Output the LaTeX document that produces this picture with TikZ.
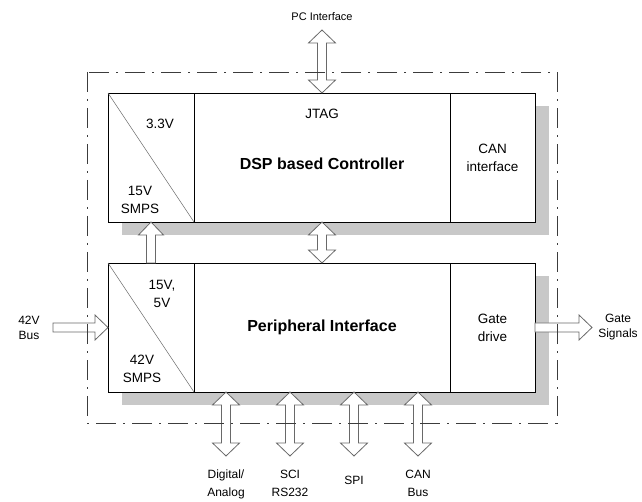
\documentclass[tikz,border=0pt]{standalone}
\usepackage{fontspec}
\setmainfont{Liberation Sans}
\usepackage{tikz}
\usetikzlibrary{positioning,calc}
\definecolor{shadowgray}{RGB}{200,200,200}
\definecolor{arrowgray}{RGB}{105,105,105}
\definecolor{zonegray}{RGB}{60,60,60}
\pgfdeclarelayer{background}
\pgfsetlayers{background,main}
\tikzset{
  boardpic/.style={
    x=1pt,y=-1pt
    ,node distance=0pt
    ,inner sep=0pt
    ,outer sep=0pt
    ,font=\fontsize{13.5}{18}\selectfont
  }
  ,cell/.style={draw=black,line width=.8pt,fill=white,minimum height=129pt}
  ,smpscell/.style={cell,minimum width=86pt}
  ,corecell/.style={cell,minimum width=256pt}
  ,sidecell/.style={cell,minimum width=85pt,align=center}
  ,title/.style={font=\fontsize{16}{19}\selectfont\bfseries}
  ,lbl/.style={align=center}
  ,outlbl/.style={align=center,font=\fontsize{12}{18}\selectfont}
  ,sidelbl/.style={align=center,font=\fontsize{12}{15}\selectfont}
  ,diag/.style={draw=arrowgray,line width=.5pt}
  ,shade/.style={fill=shadowgray}
  ,zone/.style={draw=zonegray,line width=.8pt
    ,dash pattern=on 20pt off 7pt on 2pt off 7pt}
  ,blockarrow/.style={draw=arrowgray,fill=white,line width=.8pt,line join=miter}
}
% double arrow, #1 upper tip, #2 lower tip
\newcommand{\vdblarrow}[2]{%
  \draw[blockarrow] (#1) -- ++(13.5,13) -- ++(-9,0) -- ($(#2)+(4.5,-13)$)
    -- ++(9,0) -- (#2) -- ++(-13.5,-13) -- ++(9,0) -- ($(#1)+(-4.5,13)$)
    -- ++(-9,0) -- cycle;}
% single arrow pointing up, #1 tail, #2 tip
\newcommand{\upsarrow}[2]{%
  \draw[blockarrow] ($(#1)+(-4.5,0)$) -- ($(#2)+(-4.5,13)$) -- ++(-8,0)
    -- (#2) -- ($(#2)+(12.5,13)$) -- ++(-8,0) -- ($(#1)+(4.5,0)$) -- cycle;}
% single arrow pointing right, #1 tail, #2 tip
\newcommand{\rightsarrow}[2]{%
  \draw[blockarrow] ($(#1)+(0,-4.5)$) -- ($(#2)+(-13,-4.5)$) -- ++(0,-8)
    -- (#2) -- ($(#2)+(-13,12.5)$) -- ++(0,-8) -- ($(#1)+(0,4.5)$) -- cycle;}

\begin{document}
\begin{tikzpicture}[boardpic]
  \useasboundingbox (0,0) rectangle (642,502);

  % controller board
  \node[smpscell,anchor=north west] (dspsmps) at (108,93) {};
  \node[corecell,right=of dspsmps] (dspcore) {};
  \node[sidecell,right=of dspcore] (dspcan) {CAN\\interface};
  \draw[diag] (dspsmps.north west) -- (dspsmps.south east);
  \node[lbl] (dspvout) at ([xshift=52pt,yshift=-31pt]dspsmps.north west) {3.3V};
  \node[lbl] (dspvin) at ([xshift=32pt,yshift=-107pt]dspsmps.north west) {15V\\SMPS};
  \node[lbl] (jtag) at ([yshift=-21pt]dspcore.north) {JTAG};
  \node[title] (dsptitle) at ([yshift=-6pt]dspcore.center) {DSP based Controller};

  % peripheral board
  \node[smpscell,below=41pt of dspsmps] (perismps) {};
  \node[corecell,right=of perismps] (pericore) {};
  \node[sidecell,right=of pericore] (peridrv) {Gate\\drive};
  \draw[diag] (perismps.north west) -- (perismps.south east);
  \node[lbl] (perivout) at ([xshift=54pt,yshift=-31pt]perismps.north west) {15V,\\5V};
  \node[lbl] (perivin) at ([xshift=34pt,yshift=-106pt]perismps.north west) {42V\\SMPS};
  \node[title] (perititle) at (pericore.center) {Peripheral Interface};

  \begin{pgfonlayer}{background}
    \fill[shade] ($(dspsmps.north west)+(14,13)$) rectangle ($(dspcan.south east)+(14,13)$);
    \fill[shade] ($(perismps.north west)+(14,13)$) rectangle ($(peridrv.south east)+(14,13)$);
  \end{pgfonlayer}

  % arrows
  \coordinate (pctip) at ([yshift=63pt]dspcore.north);
  \vdblarrow{pctip}{dspcore.north}
  \node[outlbl,font=\fontsize{11}{13}\selectfont] (pclbl) at ([yshift=13pt]pctip) {PC Interface};
  \vdblarrow{dspcore.south}{pericore.north}
  \upsarrow{perismps.north}{dspsmps.south}

  \coordinate (bustail) at ([xshift=-55pt]perismps.west);
  \rightsarrow{bustail}{perismps.west}
  \node[sidelbl] (buslbl) at ([xshift=-24pt]bustail) {42V\\Bus};
  \coordinate (gatetip) at ([xshift=57pt]peridrv.east);
  \rightsarrow{peridrv.east}{gatetip}
  \node[sidelbl] (gatelbl) at ([xshift=26pt]gatetip) {Gate\\Signals};

  \coordinate (diotop) at ([xshift=-96pt]pericore.south);
  \coordinate (scitop) at ([xshift=-32pt]pericore.south);
  \coordinate (spitop) at ([xshift=32pt]pericore.south);
  \coordinate (cantop) at ([xshift=96pt]pericore.south);
  \foreach \name in {dio,sci,spi,can}{
    \coordinate (\name bot) at ([yshift=-64pt]\name top);
    \vdblarrow{\name top}{\name bot}
  }
  \node[outlbl,anchor=north] (diolbl) at ([yshift=-14pt]diobot) {Digital/\\Analog\\I/O};
  \node[outlbl,anchor=north] (scilbl) at ([yshift=-14pt]scibot) {SCI\\RS232};
  \node[outlbl,anchor=north] (spilbl) at ([yshift=-20pt]spibot) {SPI};
  \node[outlbl,anchor=north] (canlbl) at ([yshift=-14pt]canbot) {CAN\\Bus};

  % board frame
  \draw[zone] ($(dspsmps.north west)+(-21,-21)$) rectangle ($(peridrv.south east)+(22,31)$);
\end{tikzpicture}
\end{document}
